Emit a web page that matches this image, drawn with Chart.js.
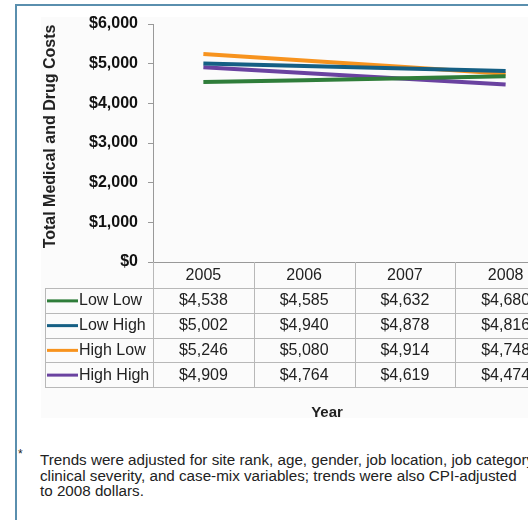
<!DOCTYPE html>
<html>
<head>
<meta charset="utf-8">
<script src="https://cdn.jsdelivr.net/npm/chart.js@4/dist/chart.umd.min.js"></script>
<style>
  html, body { margin: 0; padding: 0; background: #fff; }
  body { width: 528px; height: 520px; overflow: hidden; position: relative; font-family: "Liberation Sans", Arial, sans-serif; }
  #frame { position: absolute; left: 15px; top: 4px; width: 700px; height: 600px;
           border-left: 2px solid #5a8fae; border-top: 2px solid #5a8fae; }
  #panel { position: absolute; left: 41px; top: 17px; width: 700px; height: 401px; background: #fbfbfb; }
  #wrap { position: absolute; left: 0; top: 0; width: 600px; height: 420px; }
  #note { position: absolute; left: 40px; top: 452px; font-size: 15.2px; line-height: 15.6px;
          color: #222; white-space: nowrap; }
  #star { position: absolute; left: 18px; top: 447px; font-size: 12px; color: #222; }
</style>
</head>
<body>
<div id="frame"></div>
<div id="panel"></div>
<div id="wrap"><canvas id="chart" width="600" height="420"></canvas></div>
<div id="star">*</div>
<div id="note">Trends were adjusted for site rank, age, gender, job location, job category,<br>clinical severity, and case-mix variables; trends were also CPI-adjusted<br>to 2008 dollars.</div>

<script>
/* ── DATA ─────────────────────────────────────────────── */
const years       = ["2005", "2006", "2007", "2008"];
const seriesNames = ["Low Low", "Low High", "High Low", "High High"];
const lowLow      = [4538, 4585, 4632, 4680];
const lowHigh     = [5002, 4940, 4878, 4816];
const highLow     = [5246, 5080, 4914, 4748];
const highHigh    = [4909, 4764, 4619, 4474];
const yMin = 0, yMax = 6000, yStep = 1000;

const seriesValues = [lowLow, lowHigh, highLow, highHigh];
const seriesColors = ["#2f7d3a", "#155f84", "#f7931e", "#6a42a0"];

const FONT = "'Liberation Sans', Arial, sans-serif";
const money = v => "$" + v.toLocaleString("en-US");

/* ── DATA TABLE + TITLES (drawn under the x scale) ────── */
const tablePlugin = {
  id: "dataTable",
  afterDraw(chart) {
    const { ctx, scales: { x } } = chart;
    const colW   = x.getPixelForValue(1) - x.getPixelForValue(0);
    const top    = x.top;          // axis line
    const headH  = 26;
    const rowH   = 24.75;
    const leftX  = 45;
    const rightX = x.getPixelForValue(years.length - 1) + colW / 2;
    const bottom = top + headH + rowH * seriesNames.length;

    ctx.save();
    ctx.strokeStyle = "#b8b8b8";
    ctx.lineWidth = 1;

    // vertical column separators
    for (let i = 0; i <= years.length; i++) {
      const px = Math.round(x.getPixelForValue(0) - colW / 2 + colW * i) + 0.5;
      ctx.beginPath(); ctx.moveTo(px, top); ctx.lineTo(px, bottom); ctx.stroke();
    }
    // left border of label column
    ctx.beginPath(); ctx.moveTo(leftX + 0.5, top + headH); ctx.lineTo(leftX + 0.5, bottom); ctx.stroke();
    // row lines
    for (let r = 0; r <= seriesNames.length; r++) {
      const py = Math.round(top + headH + rowH * r) + 0.5;
      ctx.beginPath(); ctx.moveTo(leftX, py); ctx.lineTo(rightX, py); ctx.stroke();
    }

    ctx.fillStyle = "#222";
    ctx.font = "16px " + FONT;
    ctx.textAlign = "center";
    ctx.textBaseline = "middle";
    years.forEach((y, i) => ctx.fillText(y, x.getPixelForValue(i), top + headH / 2 + 0.5));

    seriesNames.forEach((name, r) => {
      const cy = top + headH + rowH * r + rowH / 2 + 0.5;
      // legend key
      ctx.strokeStyle = seriesColors[r];
      ctx.lineWidth = 3;
      ctx.beginPath(); ctx.moveTo(47, cy); ctx.lineTo(78, cy); ctx.stroke();
      ctx.textAlign = "left";
      ctx.fillText(name, 79, cy);
      ctx.textAlign = "center";
      seriesValues[r].forEach((v, i) => ctx.fillText(money(v), x.getPixelForValue(i), cy));
    });

    // axis titles
    ctx.font = "bold 15px " + FONT;
    ctx.fillText("Year", 327, 413);

    ctx.translate(55, 136.5);
    ctx.rotate(-Math.PI / 2);
    ctx.font = "bold 16px " + FONT;
    ctx.textBaseline = "alphabetic";
    ctx.fillText("Total Medical and Drug Costs", 0, 0);
    ctx.restore();
  }
};

/* ── CHART ────────────────────────────────────────────── */
new Chart(document.getElementById("chart"), {
  type: "line",
  data: {
    labels: years,
    datasets: seriesNames.map((name, i) => ({
      label: name,
      data: seriesValues[i],
      borderColor: seriesColors[i],
      backgroundColor: seriesColors[i],
      borderWidth: 4,
      pointRadius: 0,
      tension: 0,
      fill: false
    }))
  },
  options: {
    responsive: false,
    animation: false,
    layout: { padding: { top: 24, right: 44, bottom: 158, left: 0 } },
    plugins: { legend: { display: false }, tooltip: { enabled: false } },
    scales: {
      x: {
        offset: true,
        ticks: { display: false },
        grid: { drawOnChartArea: false, drawTicks: false },
        border: { color: "#999" },
        afterFit: s => { s.height = 0; }
      },
      y: {
        min: yMin,
        max: yMax,
        ticks: {
          stepSize: yStep,
          padding: 10,
          color: "#111",
          font: { family: FONT, size: 16, weight: "bold" },
          callback: v => money(v)
        },
        grid: { drawOnChartArea: false, tickLength: 5, color: "#999" },
        border: { color: "#999" },
        afterFit: s => { s.width = 153; }
      }
    }
  },
  plugins: [tablePlugin]
});
</script>
</body>
</html>
